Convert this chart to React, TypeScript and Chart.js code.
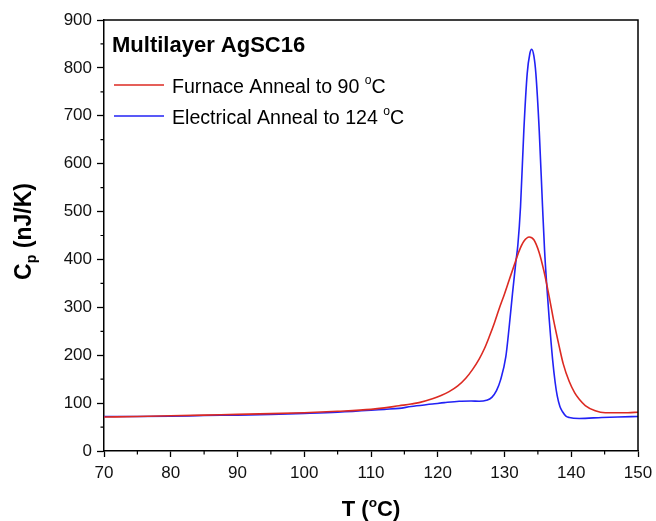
import React, { useEffect, useRef } from 'react';
import { Chart, registerables } from 'chart.js';

Chart.register(...registerables);

// ---------- data ----------
const furnaceT = [70, 75, 80, 85, 90, 95, 100, 105, 110, 112, 114.2, 116, 117.2, 119.2, 120.5, 121.7, 123, 124.2, 125.2, 126.2, 127, 127.7, 128.5, 129.2, 130, 130.7, 131.5, 132.2, 132.9, 133.7, 134.4, 135.2, 135.9, 136.7, 137.4, 138.2, 138.8, 139.7, 140.5, 141.2, 142.1, 143.6, 145.1, 147, 148.5, 150];
const furnaceCp = [71, 72, 73.5, 75, 76.5, 78, 80, 83, 87, 90, 94.5, 98, 101, 109, 116, 124, 136, 152, 170, 192, 214, 238, 268, 297, 328, 357, 390, 418, 438, 447, 441, 414, 376, 322, 270, 218, 182, 145, 122, 108, 95, 84, 80, 80, 80, 81];

const electricalT = [70, 75, 80, 85, 90, 95, 100, 105, 110, 112, 114.2, 116, 119.2, 121, 123.2, 125, 126.2, 127.3, 128.1, 128.8, 129.4, 130.2, 130.7, 131.2, 131.7, 132.0, 132.4, 132.9, 133.4, 133.8, 134.07, 134.4, 134.7, 135.2, 135.7, 136.0, 136.3, 136.7, 137.2, 137.6, 137.9, 138.3, 138.7, 139.2, 139.7, 141.2, 144.6, 147, 150];
const electricalCp = [72, 72, 72.5, 74, 75, 76.5, 78.5, 81, 85, 87, 89, 93, 98, 101, 104, 104.5, 104, 106, 112, 126, 148, 197, 259, 329, 395, 430, 510, 670, 788, 830, 839, 825, 788, 670, 510, 420, 352, 275, 192, 142, 115, 93, 82, 73, 70, 68, 70, 71, 72];

const xMajorTicks = [70, 80, 90, 100, 110, 120, 130, 140, 150];
const xMinorTicks = [75, 85, 95, 105, 115, 125, 135, 145];
const yMajorTicks = [0, 100, 200, 300, 400, 500, 600, 700, 800, 900];
const yMinorTicks = [50, 150, 250, 350, 450, 550, 650, 750, 850];

const seriesLabels = ['Furnace Anneal to 90 °C', 'Electrical Anneal to 124 °C'];
const seriesColors = ['#dc2a22', '#2222f5'];
const legendTitle = 'Multilayer AgSC16';
const xTitle = 'T (°C)';
const yTitleMain = 'C';
const yTitleSub = 'p';
const yTitleRest = ' (nJ/K)';

const W = 656;
const H = 521;
const FONT = '"Liberation Sans", Arial, Helvetica, sans-serif';

// draw text where "°" is rendered as a raised small "o"
function drawDegText(ctx: CanvasRenderingContext2D, text: string, x: number, y: number, size: number, weight: string) {
  const parts = text.split('°');
  let cx = x;
  parts.forEach((p, i) => {
    ctx.font = `${weight} ${size}px ${FONT}`;
    ctx.fillText(p, cx, y);
    cx += ctx.measureText(p).width;
    if (i < parts.length - 1) {
      const s = size * 0.62;
      ctx.font = `${weight} ${s}px ${FONT}`;
      ctx.fillText('o', cx, y - size * 0.42);
      cx += ctx.measureText('o').width;
    }
  });
  return cx - x;
}
function measureDegText(ctx: CanvasRenderingContext2D, text: string, size: number, weight: string) {
  const parts = text.split('°');
  let w = 0;
  parts.forEach((p, i) => {
    ctx.font = `${weight} ${size}px ${FONT}`;
    w += ctx.measureText(p).width;
    if (i < parts.length - 1) {
      ctx.font = `${weight} ${size * 0.62}px ${FONT}`;
      w += ctx.measureText('o').width;
    }
  });
  return w;
}

const decorPlugin = {
  id: 'decor',
  afterDraw(chart: any) {
    const ctx: CanvasRenderingContext2D = chart.ctx;
    const { left, right, top, bottom } = chart.chartArea;
    const xs = chart.scales.x;
    const ys = chart.scales.y;
    ctx.save();
    ctx.strokeStyle = '#000';
    ctx.lineWidth = 1.5;
    // top and right frame
    ctx.beginPath();
    ctx.moveTo(left, top);
    ctx.lineTo(right, top);
    ctx.lineTo(right, bottom);
    ctx.stroke();
    // minor ticks
    ctx.lineWidth = 1.2;
    ctx.beginPath();
    xMinorTicks.forEach((v) => {
      const px = xs.getPixelForValue(v);
      ctx.moveTo(px, bottom);
      ctx.lineTo(px, bottom + 3.5);
    });
    yMinorTicks.forEach((v) => {
      const py = ys.getPixelForValue(v);
      ctx.moveTo(left, py);
      ctx.lineTo(left - 3.5, py);
    });
    ctx.stroke();

    ctx.fillStyle = '#000';
    ctx.textBaseline = 'alphabetic';
    ctx.textAlign = 'left';

    // x title
    const xs2 = 22;
    const xw = measureDegText(ctx, xTitle, xs2, 'bold');
    drawDegText(ctx, xTitle, (left + right) / 2 - xw / 2, 516, xs2, 'bold');

    // y title (rotated)
    ctx.save();
    const ySize = 23;
    ctx.translate(31, (top + bottom) / 2 - 4);
    ctx.rotate(-Math.PI / 2);
    ctx.font = `bold ${ySize}px ${FONT}`;
    const wC = ctx.measureText(yTitleMain).width;
    ctx.font = `bold ${ySize * 0.62}px ${FONT}`;
    const wP = ctx.measureText(yTitleSub).width;
    ctx.font = `bold ${ySize}px ${FONT}`;
    const wR = ctx.measureText(yTitleRest).width;
    const total = wC + wP + wR;
    let cx = -total / 2;
    ctx.fillText(yTitleMain, cx, 0);
    cx += wC;
    ctx.font = `bold ${ySize * 0.62}px ${FONT}`;
    ctx.fillText(yTitleSub, cx, ySize * 0.22);
    cx += wP;
    ctx.font = `bold ${ySize}px ${FONT}`;
    ctx.fillText(yTitleRest, cx, 0);
    ctx.restore();

    // legend
    ctx.font = `bold 22px ${FONT}`;
    ctx.fillText(legendTitle, 112, 52);
    const rows = [85, 116];
    chart.data.datasets.forEach((ds: any, i: number) => {
      ctx.strokeStyle = ds.borderColor;
      ctx.lineWidth = 1.6;
      ctx.beginPath();
      ctx.moveTo(114, rows[i]);
      ctx.lineTo(164, rows[i]);
      ctx.stroke();
      ctx.fillStyle = '#000';
      drawDegText(ctx, ds.label, 172, rows[i] + 7.5, 19.6, 'normal');
    });
    ctx.restore();
  },
};

export default function App() {
  const ref = useRef<HTMLCanvasElement | null>(null);
  useEffect(() => {
    if (!ref.current) return;
    const toPts = (xs: number[], ys: number[]) => xs.map((x, i) => ({ x, y: ys[i] }));
    const chart = new Chart(ref.current, {
      type: 'line',
      data: {
        datasets: [
          {
            label: seriesLabels[0],
            data: toPts(furnaceT, furnaceCp),
            borderColor: seriesColors[0],
            borderWidth: 1.6,
            pointRadius: 0,
            cubicInterpolationMode: 'monotone',
            fill: false,
          },
          {
            label: seriesLabels[1],
            data: toPts(electricalT, electricalCp),
            borderColor: seriesColors[1],
            borderWidth: 1.6,
            pointRadius: 0,
            cubicInterpolationMode: 'monotone',
            fill: false,
          },
        ],
      },
      options: {
        animation: false,
        responsive: false,
        devicePixelRatio: 1,
        layout: { padding: { left: 0, right: 18, top: 20, bottom: 0 } },
        plugins: { legend: { display: false }, tooltip: { enabled: false }, title: { display: false } },
        scales: {
          x: {
            type: 'linear',
            min: 70,
            max: 150,
            afterBuildTicks: (s: any) => {
              s.ticks = xMajorTicks.map((v) => ({ value: v }));
            },
            ticks: { font: { size: 17, family: FONT }, color: '#111', padding: 6, maxRotation: 0, autoSkip: false },
            grid: { drawOnChartArea: false, drawTicks: true, tickLength: 6, tickColor: '#000', tickWidth: 1.3 },
            border: { display: true, color: '#000', width: 1.5 },
            afterFit: (s: any) => {
              s.height = 70;
              s.paddingRight = 0;
              s.paddingLeft = 0;
            },
          },
          y: {
            type: 'linear',
            min: 0,
            max: 900,
            afterBuildTicks: (s: any) => {
              s.ticks = yMajorTicks.map((v) => ({ value: v }));
            },
            ticks: { font: { size: 17, family: FONT }, color: '#111', padding: 5, autoSkip: false },
            grid: { drawOnChartArea: false, drawTicks: true, tickLength: 7, tickColor: '#000', tickWidth: 1.3 },
            border: { display: true, color: '#000', width: 1.5 },
            afterFit: (s: any) => {
              s.width = 104;
              s.paddingTop = 0;
              s.paddingBottom = 0;
            },
          },
        },
      },
      plugins: [decorPlugin],
    } as any);
    return () => chart.destroy();
  }, []);
  return (
    <div style={{ position: 'absolute', left: 0, top: 0, width: W, height: H, background: '#fff' }}>
      <canvas ref={ref} width={W} height={H} style={{ width: W, height: H, display: 'block' }} />
    </div>
  );
}
